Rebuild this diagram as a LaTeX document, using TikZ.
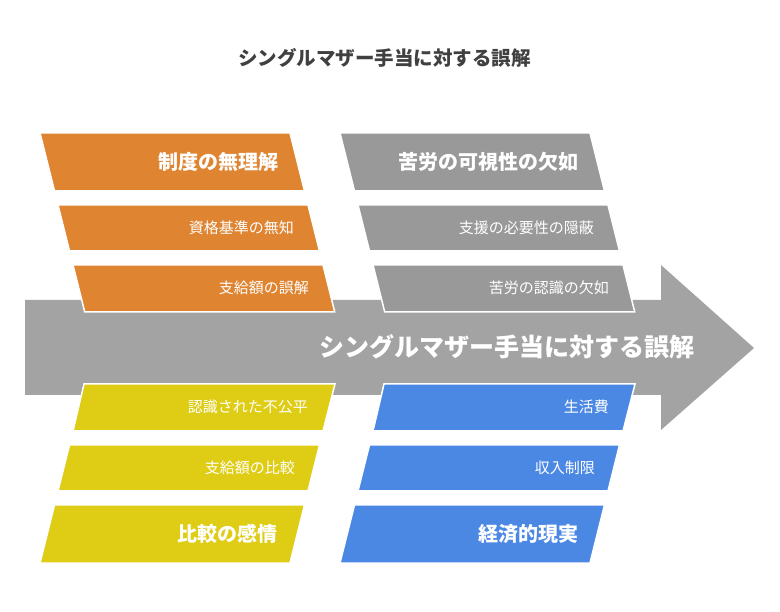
\documentclass[tikz,border=0pt]{standalone}
\usepackage{fontspec}
\setmainfont{Noto Sans CJK JP}
\definecolor{arrowgray}{HTML}{A3A3A3}
\definecolor{boxorange}{HTML}{DF8431}
\definecolor{boxgray}{HTML}{999999}
\definecolor{boxyellow}{HTML}{DECC15}
\definecolor{boxblue}{HTML}{4B88E4}
\definecolor{titlegray}{HTML}{404040}
\begin{document}
\begin{tikzpicture}[x=1pt,y=-1pt,
  strip/.style={draw=white,line width=1.5pt,line join=miter},
  headtext/.style={anchor=east,inner sep=0pt,text=white,font=\bfseries\fontsize{20}{24}\selectfont},
  subtext/.style={anchor=east,inner sep=0pt,text=white,font=\fontsize{15}{18}\selectfont}]
\useasboundingbox (0,0) rectangle (780,612);
% title
\node[inner sep=0pt,text=titlegray,font=\bfseries\fontsize{19.5}{23}\selectfont] (title) at (384.5,58) {シングルマザー手当に対する誤解};
% main arrow
\fill[arrowgray] (25,300) -- (661,300) -- (661,265) -- (754,348) -- (661,430) -- (661,395) -- (25,395) -- cycle;
\node[anchor=east,inner sep=0pt,text=white,font=\bfseries\fontsize{25}{30}\selectfont] (main) at (695,347) {シングルマザー手当に対する誤解};
% top-left orange
\filldraw[strip,fill=boxorange] (40,133) -- (290,133) -- (304.5,191) -- (54.5,191) -- cycle;
\filldraw[strip,fill=boxorange] (58,205) -- (308,205) -- (319.5,251) -- (69.5,251) -- cycle;
\filldraw[strip,fill=boxorange] (73,265) -- (323,265) -- (334.75,312) -- (84.75,312) -- cycle;
\node[headtext] (o1) at (279,162) {制度の無理解};
\node[subtext] (o2) at (294,228) {資格基準の無知};
\node[subtext] (o3) at (309,288) {支給額の誤解};
% top-right gray
\filldraw[strip,fill=boxgray] (340,133) -- (590,133) -- (604.5,191) -- (354.5,191) -- cycle;
\filldraw[strip,fill=boxgray] (358,205) -- (608,205) -- (619.5,251) -- (369.5,251) -- cycle;
\filldraw[strip,fill=boxgray] (373,265) -- (623,265) -- (634.75,312) -- (384.75,312) -- cycle;
\node[headtext] (g1) at (579,162) {苦労の可視性の欠如};
\node[subtext] (g2) at (594,228) {支援の必要性の隠蔽};
\node[subtext] (g3) at (609,288) {苦労の認識の欠如};
% bottom-left yellow
\filldraw[strip,fill=boxyellow] (84,384) -- (335,384) -- (323,431) -- (73,431) -- cycle;
\filldraw[strip,fill=boxyellow] (69.5,445) -- (319.5,445) -- (308,491) -- (58,491) -- cycle;
\filldraw[strip,fill=boxyellow] (54.5,505) -- (304.5,505) -- (290,563) -- (40,563) -- cycle;
\node[subtext] (y1) at (308,407) {認識された不公平};
\node[subtext] (y2) at (295,468) {支給額の比較};
\node[headtext] (y3) at (278,534) {比較の感情};
% bottom-right blue
\filldraw[strip,fill=boxblue] (384,384) -- (635,384) -- (623,431) -- (373,431) -- cycle;
\filldraw[strip,fill=boxblue] (369.5,445) -- (619.5,445) -- (608,491) -- (358,491) -- cycle;
\filldraw[strip,fill=boxblue] (354.5,505) -- (604.5,505) -- (590,563) -- (340,563) -- cycle;
\node[subtext] (b1) at (609,407) {生活費};
\node[subtext] (b2) at (595,468) {収入制限};
\node[headtext] (b3) at (579,534) {経済的現実};
\end{tikzpicture}
\end{document}
